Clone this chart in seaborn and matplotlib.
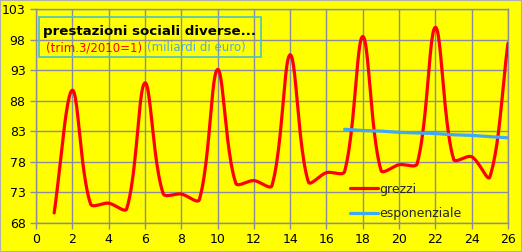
import numpy as np
import pandas as pd
import matplotlib
matplotlib.use("Agg")
import matplotlib.pyplot as plt
import seaborn as sns
from matplotlib.patches import Rectangle

# ---- data ----
quarters = list(range(1, 27))
grezzi = [69.6, 89.7, 71.1, 71.2, 70.3, 90.9, 72.8, 72.7, 71.8, 93.1,
          74.5, 74.9, 74.1, 95.5, 74.7, 76.2, 76.4, 98.5, 76.6, 77.5,
          77.7, 100.0, 78.4, 78.8, 75.5, 97.4]
trend_x = list(range(17, 27))
esponenziale = [83.3, 83.1, 83.0, 82.8, 82.7, 82.6, 82.4, 82.3, 82.1, 81.9]
x_ticks = list(range(0, 27, 2))
y_ticks = [68, 73, 78, 83, 88, 93, 98, 103]
title = "prestazioni sociali diverse..."
sub_red = "(trim.3/2010=1)"
sub_blue = "(miliardi di euro)"

# pixel scale of the plot area (used only to smooth like a spreadsheet does)
SX, SY = 472 / 26.0, 213.7 / 35.0


def smooth(x, y, n=24):
    P = np.column_stack([np.asarray(x, float) * SX, np.asarray(y, float) * SY])
    m = len(P)
    d = np.linalg.norm(np.diff(P, axis=0), axis=1)
    out = []
    t = np.linspace(0, 1, n, endpoint=False)[:, None]
    for i in range(m - 1):
        p0, p3 = P[i], P[i + 1]
        if i > 0:
            a = (P[i + 1] - P[i - 1]) * d[i] / (d[i - 1] + d[i]) / 3.0
        else:
            a = (P[i + 1] - P[i]) / 3.0
        if i + 2 < m:
            b = (P[i + 2] - P[i]) * d[i] / (d[i] + d[i + 1]) / 3.0
        else:
            b = (P[i + 1] - P[i]) / 3.0
        p1 = p0 + a
        p2 = p3 - b
        seg = ((1 - t) ** 3) * p0 + 3 * ((1 - t) ** 2) * t * p1 + 3 * (1 - t) * t ** 2 * p2 + t ** 3 * p3
        out.append(seg)
    out.append(P[-1:])
    out = np.vstack(out)
    return out[:, 0] / SX, out[:, 1] / SY


sx, sy = smooth(quarters, grezzi)
df_raw = pd.DataFrame({"x": sx, "y": sy})
df_trend = pd.DataFrame({"x": trend_x, "y": esponenziale})

YELLOW = "#FFFF00"
GRID = "#8C8C9C"
sns.set_theme(style="ticks")
plt.rcParams.update({
    "font.family": ["DejaVu Sans"],
    "axes.grid": True,
    "grid.color": GRID,
    "grid.linewidth": 1.0,
    "grid.linestyle": "-",
    "grid.alpha": 1.0,
    "axes.axisbelow": True,
    "xtick.color": GRID,
    "ytick.color": GRID,
    "xtick.labelcolor": "black",
    "ytick.labelcolor": "black",
    "xtick.major.size": 4,
    "ytick.major.size": 4,
    "xtick.major.width": 1,
    "ytick.major.width": 1,
    "xtick.labelsize": 9,
    "ytick.labelsize": 9,
    "axes.edgecolor": GRID,
    "axes.linewidth": 1.0,
})

fig = plt.figure(figsize=(5.22, 2.52), dpi=100, facecolor=YELLOW)
ax = fig.add_axes([36 / 522, 1 - 222.7 / 252, 472 / 522, (222.7 - 9) / 252])
ax.set_facecolor(YELLOW)

sns.lineplot(data=df_raw, x="x", y="y", ax=ax, color="#FF0000", linewidth=2.3,
             sort=False, estimator=None, label="grezzi", zorder=3)
sns.lineplot(data=df_trend, x="x", y="y", ax=ax, color="#3FA9F5", linewidth=2.3,
             estimator=None, label="esponenziale", zorder=3)

ax.set_xlim(0, 26)
ax.set_ylim(68, 103)
ax.set_xticks(x_ticks)
ax.set_yticks(y_ticks)
ax.set_xlabel("")
ax.set_ylabel("")
ax.xaxis.grid(True, color=GRID, linewidth=1.0)
ax.yaxis.grid(True, color=GRID, linewidth=1.0)
for s in ax.spines.values():
    s.set_visible(True)
    s.set_color(GRID)

leg = ax.legend(loc="lower right", bbox_to_anchor=(0.925, -0.04), frameon=False,
                fontsize=9, handlelength=2.2, handletextpad=0.1, labelspacing=0.9)

# title box (transparent, grid shows through)
fig.add_artist(Rectangle((39 / 522, 1 - 57.3 / 252), 222 / 522, 40.6 / 252,
                         transform=fig.transFigure, fill=False,
                         edgecolor="#4BC0C8", linewidth=1.2, zorder=5))
fig.text(43 / 522, 1 - 32 / 252, title, fontsize=9.6, fontweight="heavy",
         color="black", va="center", ha="left", zorder=6)
fig.text(46 / 522, 1 - 48 / 252, sub_red, fontsize=8.5, color="#FF0000",
         va="center", ha="left", zorder=6)
fig.text(147 / 522, 1 - 48 / 252, sub_blue, fontsize=8.5, color="#4FA8F0",
         va="center", ha="left", zorder=6)

# outer border
fig.add_artist(Rectangle((0, 0), 1, 1, transform=fig.transFigure, fill=False,
                         edgecolor="#B0B0B0", linewidth=1.5, zorder=10))

fig.savefig("out.png", dpi=100, facecolor=YELLOW)
